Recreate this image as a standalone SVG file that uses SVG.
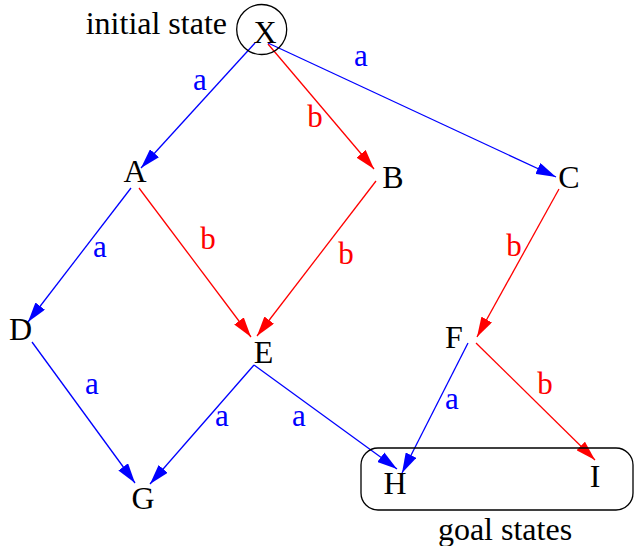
<svg xmlns="http://www.w3.org/2000/svg" width="634" height="546" viewBox="0 0 634 546">
<style>
text{font-family:"Liberation Serif","Times New Roman",serif}
.n{font-size:32px;fill:#000;text-anchor:middle}
.l{font-size:31px;text-anchor:middle}
.la{fill:#0000ff}
.lb{fill:#ff0000}
.ea{stroke:#0000ff;stroke-width:1.3;fill:none;marker-end:url(#ma)}
.eb{stroke:#ff0000;stroke-width:1.3;fill:none;marker-end:url(#mb)}
</style>
<defs>
<marker id="ma" markerUnits="userSpaceOnUse" markerWidth="20" markerHeight="12" refX="20" refY="6" orient="auto" viewBox="0 0 20 12"><path d="M0,0 L20,6 L0,12 z" fill="#0000ff"/></marker>
<marker id="mb" markerUnits="userSpaceOnUse" markerWidth="20" markerHeight="12" refX="20" refY="6" orient="auto" viewBox="0 0 20 12"><path d="M0,0 L20,6 L0,12 z" fill="#ff0000"/></marker>
</defs>
<rect width="634" height="546" fill="#fff"/>
<g id="connectors">
<line class="ea" x1="255" y1="43" x2="141" y2="168"/>
<line class="eb" x1="268" y1="44" x2="374" y2="169"/>
<line class="ea" x1="268" y1="43" x2="556" y2="177"/>
<line class="ea" x1="131" y1="188" x2="28" y2="322"/>
<line class="eb" x1="139" y1="188" x2="251" y2="337"/>
<line class="eb" x1="376" y1="181" x2="257" y2="336"/>
<line class="eb" x1="559" y1="189" x2="477" y2="337"/>
<line class="ea" x1="32" y1="342" x2="135" y2="483"/>
<line class="ea" x1="254" y1="365" x2="150" y2="484"/>
<line class="ea" x1="254" y1="365" x2="397" y2="469"/>
<line class="ea" x1="468" y1="343" x2="402" y2="473"/>
<line class="eb" x1="476" y1="343" x2="595" y2="460"/>
<text class="l la" x="200" y="90">a</text>
<text class="l lb" x="315" y="127">b</text>
<text class="l la" x="361" y="66">a</text>
<text class="l la" x="100" y="257">a</text>
<text class="l lb" x="208" y="249">b</text>
<text class="l lb" x="346" y="264">b</text>
<text class="l lb" x="514" y="256">b</text>
<text class="l la" x="92" y="394">a</text>
<text class="l la" x="222" y="426">a</text>
<text class="l la" x="299" y="426">a</text>
<text class="l la" x="452" y="409">a</text>
<text class="l lb" x="545" y="394">b</text>
</g>
<g id="initial">
<text class="n" x="227" y="34" style="text-anchor:end">initial state</text>
</g>
<g id="X">
<circle cx="261.7" cy="29.5" r="25" fill="none" stroke="#000" stroke-width="1.3"/>
<text class="n" x="265" y="43">X</text>
</g>
<g id="A"><text class="n" x="135" y="182">A</text></g>
<g id="B"><text class="n" x="393" y="188">B</text></g>
<g id="C"><text class="n" x="569" y="188">C</text></g>
<g id="D"><text class="n" x="20.5" y="340">D</text></g>
<g id="E"><text class="n" x="263.5" y="363">E</text></g>
<g id="F"><text class="n" x="454" y="348">F</text></g>
<g id="G"><text class="n" x="143" y="509">G</text></g>
<g id="goal">
<rect x="361" y="448" width="272" height="62" rx="17" ry="17" fill="none" stroke="#000" stroke-width="1.3"/>
<text class="n" x="505" y="540">goal states</text>
</g>
<g id="H"><text class="n" x="395" y="494">H</text></g>
<g id="I"><text class="n" x="595" y="487">I</text></g>
</svg>
